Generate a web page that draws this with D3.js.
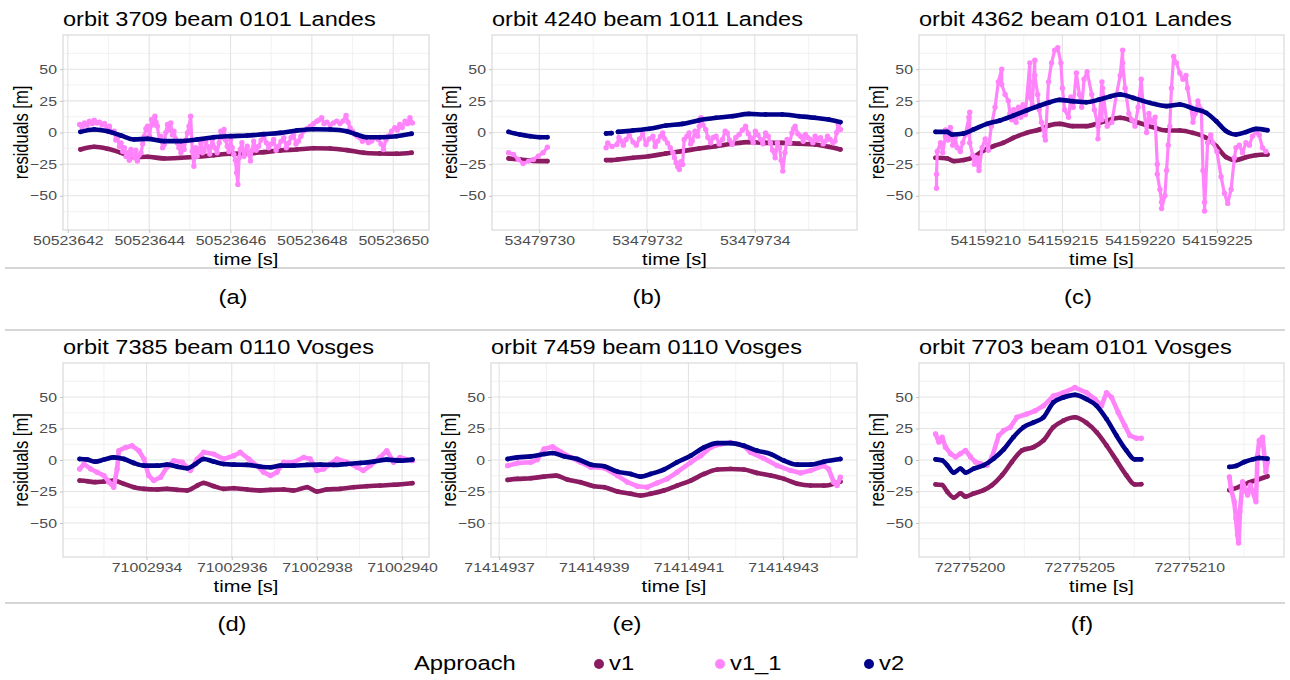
<!DOCTYPE html>
<html>
<head>
<meta charset="utf-8">
<script src="https://cdn.jsdelivr.net/npm/d3@7"></script>
<style>
  body { margin: 0; background: #fff; }
</style>
</head>
<body>
<svg id="chart" width="1290" height="680"></svg>
<script>
// titles, captions, time axes
const titles = [
  'orbit 3709 beam 0101 Landes', 'orbit 4240 beam 1011 Landes', 'orbit 4362 beam 0101 Landes',
  'orbit 7385 beam 0110 Vosges', 'orbit 7459 beam 0110 Vosges', 'orbit 7703 beam 0101 Vosges'
];
const captions = ['(a)', '(b)', '(c)', '(d)', '(e)', '(f)'];
const baseTimes = [50523642, 53479729, 54159205, 71002932, 71414936, 72775197];
const majorTicks = [
  [50523642, 50523644, 50523646, 50523648, 50523650],
  [53479730, 53479732, 53479734],
  [54159210, 54159215, 54159220, 54159225],
  [71002934, 71002936, 71002938, 71002940],
  [71414937, 71414939, 71414941, 71414943],
  [72775200, 72775205, 72775210]
];
const minorTicks = [
  [50523643, 50523645, 50523647, 50523649],
  [53479731, 53479733, 53479735],
  [54159207.5, 54159212.5, 54159217.5, 54159222.5, 54159227.5],
  [71002933, 71002935, 71002937, 71002939],
  [71414938, 71414940, 71414942, 71414944],
  [72775202.5, 72775207.5, 72775212.5]
];
const yMajor = [-50, -25, 0, 25, 50];
const yMinor = [-62.5, -37.5, -12.5, 12.5, 37.5, 62.5];
const seriesNames = ['v1', 'v1_1', 'v2'];
const seriesColors = ['#8b1c62', '#ff83fa', '#00008b'];

// [seconds after base time, residual m]; null = gap
const aV1 = [[0.31,-13.4],[0.65,-11.3],[0.98,-12.9],[1.31,-16],[1.63,-19.5],[1.96,-19.2],[2.37,-20.5],[2.78,-20],[3.18,-19.2],[3.59,-17.9],[4.0,-16.8],[4.41,-16.6],[4.82,-15.5],[5.22,-14.2],[5.63,-13.4],[6.04,-12.4],[6.45,-12.6],[6.86,-13.9],[7.27,-16],[7.67,-16.6],[8.08,-16.8],[8.45,-16]];
const aV11 = [[0.29,6.3],[0.35,4.5],[0.41,7.6],[0.47,5.8],[0.53,8.9],[0.6,7],[0.65,9.7],[0.72,7.5],[0.78,8.2],[0.84,6],[0.9,7.1],[0.96,4],[1.02,5],[1.08,0],[1.14,1.1],[1.18,-6],[1.22,-4.2],[1.27,-11],[1.31,-8.2],[1.35,-15],[1.39,-12.1],[1.43,-19],[1.47,-16],[1.51,-22],[1.55,-13.4],[1.59,-18],[1.63,-20],[1.67,-14],[1.71,-22.6],[1.75,-18],[1.8,-16],[1.84,-9],[1.88,-2.9],[1.92,3],[1.96,5],[2.01,-3],[2.06,10.3],[2.1,6],[2.14,12.9],[2.17,8],[2.2,5],[2.25,-6],[2.29,-2.9],[2.33,-12],[2.37,-9.5],[2.41,0],[2.45,6.3],[2.49,2],[2.53,7.6],[2.57,-2],[2.61,1.1],[2.65,-5],[2.69,-8.2],[2.73,-12],[2.78,-16],[2.82,-10],[2.86,-13.4],[2.9,-6],[2.94,-0.3],[2.98,5],[3.02,12.9],[3.06,-15],[3.1,-26.6],[3.14,-12],[3.18,-18.7],[3.22,-14],[3.27,-8.2],[3.31,-16],[3.35,-14.7],[3.39,-7],[3.43,-10.8],[3.49,-17],[3.55,-5.5],[3.61,-12],[3.67,-16],[3.72,-8],[3.76,1.1],[3.8,-4],[3.84,2.4],[3.88,-6],[3.92,-10.8],[3.96,-15],[4.0,-5.5],[4.04,-12],[4.08,-17.4],[4.12,-22],[4.15,-31.8],[4.18,-41],[4.21,-20],[4.24,-13.4],[4.28,-8],[4.33,-18.7],[4.37,-14],[4.41,-10.8],[4.45,-17],[4.49,-22.6],[4.53,-14],[4.57,-6.8],[4.63,-14],[4.69,-10.8],[4.75,-6],[4.82,-2.9],[4.88,-8],[4.94,-12.1],[5.0,-9],[5.06,-5.5],[5.12,-14],[5.18,-10.8],[5.24,-7],[5.31,-4.2],[5.37,-12],[5.43,-8.2],[5.49,-4],[5.55,-1.6],[5.61,-9],[5.67,-6.8],[5.73,-3],[5.8,1.1],[5.88,3],[5.96,5],[6.04,7],[6.12,8.9],[6.18,10],[6.24,11.6],[6.3,7],[6.37,8.2],[6.45,6],[6.53,7.6],[6.61,9],[6.69,7.1],[6.76,9],[6.84,13.4],[6.89,8],[6.94,3.7],[7.0,1],[7.06,-1.6],[7.12,-3],[7.18,-4.2],[7.24,-7],[7.31,-5.5],[7.39,-8],[7.47,-6.8],[7.55,-4],[7.63,-5.5],[7.7,-9],[7.76,-13.4],[7.82,-6],[7.88,-2.9],[7.96,1],[8.04,3.7],[8.1,2],[8.16,6.3],[8.22,4],[8.29,8.9],[8.35,7],[8.41,11.6],[8.47,7.6]];
const aV2 = [[0.31,0.5],[0.65,2.4],[0.98,1],[1.31,-2.4],[1.63,-5.5],[1.96,-5],[2.37,-6.8],[2.78,-6.8],[3.18,-5.5],[3.59,-3.7],[4.0,-2.9],[4.41,-2.4],[4.82,-1.3],[5.22,-0.3],[5.63,1.6],[6.04,2.6],[6.45,2.4],[6.86,1],[7.1,-1.6],[7.35,-3.7],[7.67,-3.7],[8.08,-2.9],[8.45,-1]];

const bV1 = [[0.43,-20.5],[0.64,-21.3],[0.89,-22.4],[1.15,-22.6],null,[2.24,-21.8],[2.34,-21.8],[2.46,-21.3],[2.74,-20],[3.04,-18.7],[3.35,-16.6],[3.66,-14.7],[3.97,-12.6],[4.28,-10.8],[4.58,-8.9],[4.89,-7.6],[5.2,-8.2],[5.51,-8.2],[5.82,-8.9],[6.12,-9.5],[6.37,-11.3],[6.59,-13.4]];
const bV11 = [[0.43,-16],[0.52,-17.4],[0.61,-21.3],[0.7,-24.5],[0.8,-22.6],[0.89,-21.3],[0.98,-18.7],[1.07,-16],[1.15,-11.6],null,[2.24,-12.1],[2.27,-8.2],[2.35,-11],[2.44,-9.5],[2.48,-4],[2.52,-6.8],[2.56,-10],[2.61,-5.5],[2.67,-2],[2.74,-7.6],[2.8,-10],[2.86,-5],[2.92,-1],[2.98,-9.5],[3.04,-5],[3.11,-2.9],[3.15,-11],[3.2,-6.8],[3.25,-3],[3.29,-0.3],[3.33,-5],[3.38,-8.2],[3.43,-12],[3.48,-16],[3.51,-20],[3.54,-23.9],[3.57,-27],[3.6,-29.2],[3.63,-23],[3.66,-25.2],[3.69,-5.5],[3.74,-3],[3.78,-0.3],[3.81,-9],[3.84,-6.8],[3.89,1],[3.94,-2.9],[3.97,5],[4.0,11.6],[4.04,6],[4.09,2.4],[4.13,-4],[4.18,-8.2],[4.23,-4],[4.28,-2.9],[4.34,-9],[4.4,-5.5],[4.45,1],[4.49,-0.3],[4.53,-6],[4.58,-9.5],[4.65,-4],[4.71,-1.6],[4.77,2],[4.83,5],[4.88,-1],[4.92,-4.2],[4.97,-8],[5.01,1.1],[5.06,-2],[5.11,-5.5],[5.15,-9],[5.2,-0.3],[5.25,-3],[5.29,-8.2],[5.33,-14],[5.38,-20],[5.42,-8],[5.46,-12.1],[5.49,-22],[5.52,-30.5],[5.56,-16],[5.6,-5.5],[5.65,-8],[5.69,-0.3],[5.72,3],[5.75,5],[5.8,-1],[5.85,-2.9],[5.9,-7],[5.94,-1.6],[5.98,-4],[6.03,-5.5],[6.08,-8],[6.12,-2.9],[6.17,-6],[6.22,-4.2],[6.27,-9],[6.31,-6.8],[6.35,-3],[6.4,-5.5],[6.45,-8],[6.49,-6.8],[6.52,0],[6.55,6.3],[6.59,2.4]];
const bV2 = [[0.43,0.5],[0.64,-1.6],[0.83,-2.9],[1.01,-3.7],[1.15,-3.7],null,[2.24,-0.8],[2.34,-0.5],null,[2.46,0.5],[2.74,1.6],[3.04,2.9],[3.35,5.5],[3.66,6.8],[3.97,9.7],[4.28,11.6],[4.58,12.9],[4.89,14.7],[5.2,14.2],[5.51,14.2],[5.82,12.9],[6.12,11.6],[6.37,10.3],[6.59,8.2]];

const cV1 = [[1.79,-20],[2.54,-20.5],[2.97,-22.6],[3.61,-21.8],[4.25,-19.5],[4.89,-14.2],[5.54,-10.8],[6.18,-8.1],[6.82,-4.2],[7.68,-0.3],[8.53,2.4],[9.18,5.8],[9.82,6.8],[10.67,5],[11.54,5],[12.39,7.6],[13.74,11.6],[14.6,8.9],[15.67,5],[16.74,1.6],[17.6,1.6],[18.45,-0.3],[19.31,-4.2],[19.96,-10.8],[20.6,-19.5],[21.24,-21.8],[21.88,-19.5],[22.53,-17.9],[23.27,-17.4]];
const cV11 = [[1.85,-44],[1.85,-33],[1.9,-15],[2.11,-8],[2.25,-16],[2.43,-3],[2.43,2],[2.6,-6],[2.75,0],[2.75,4],[2.9,-10],[3.05,-4],[3.2,-12],[3.39,-15],[3.55,-8],[3.71,-2],[3.95,12],[4.0,16],[4.0,-8],[4.2,-18],[4.3,-25],[4.45,-20],[4.6,-27],[4.6,-30],[4.8,-12],[5.0,-5],[5.2,-14],[5.4,5],[5.64,20],[5.85,40],[6.07,50],[6.07,38],[6.29,30],[6.5,25],[6.6,15],[6.72,10],[6.85,18],[7.0,8],[7.15,20],[7.3,12],[7.45,22],[7.6,14],[7.89,55],[7.89,40],[7.89,28],[8.05,22],[8.21,57],[8.21,45],[8.4,30],[8.5,18],[8.64,8],[8.86,-3],[8.9,-6],[9.1,40],[9.3,55],[9.5,65],[9.7,67],[9.9,55],[10.0,35],[10.14,18],[10.4,12],[10.55,28],[10.7,20],[10.9,47],[11.1,30],[11.25,20],[11.4,42],[11.6,48],[11.9,30],[12.07,18],[12.3,5],[12.3,-5],[12.56,40],[12.56,10],[12.6,35],[12.9,5],[13.2,8],[13.5,30],[13.74,45],[13.9,65],[13.9,55],[14.06,35],[14.3,15],[14.5,10],[14.7,5],[14.9,20],[15.1,42],[15.2,25],[15.45,0],[15.6,15],[15.77,8],[16.0,12],[16.14,-25],[16.14,-33],[16.31,-45],[16.42,-55],[16.42,-60],[16.63,-50],[16.74,-30],[16.85,-10],[16.95,5],[17.06,35],[17.2,60],[17.38,55],[17.6,47],[17.8,42],[18.0,45],[18.1,35],[18.3,20],[18.45,8],[18.6,15],[18.77,25],[18.99,18],[19.1,-30],[19.2,-55],[19.2,-62],[19.4,-8],[19.6,-2],[19.74,-8],[20.0,-15],[20.27,-35],[20.49,-48],[20.7,-56],[20.92,-45],[21.13,-20],[21.24,-12],[21.45,-10],[21.66,-16],[21.88,-8],[22.1,-10],[22.3,-3],[22.53,0],[22.74,-2],[22.95,-12],[23.17,-15]];
const cV2 = [[1.79,0.5],[2.54,0.5],[2.86,-1.6],[3.61,-0.8],[4.25,2.4],[5.11,6.8],[5.96,9.5],[6.82,13.4],[7.68,17.4],[8.53,21.3],[9.18,23.9],[9.82,25.8],[10.67,24.7],[11.54,23.9],[12.39,26],[13.1,28.5],[13.74,30],[14.6,27.3],[15.67,23.4],[16.74,20.8],[17.6,22.1],[18.45,18.9],[19.31,15.5],[19.96,8.9],[20.6,1.1],[21.24,-1.6],[21.88,0.3],[22.53,2.9],[23.27,1.8]];

const dV1 = [[0.43,-16.3],[0.61,-16.8],[0.8,-17.6],[1.0,-17.1],[1.23,-16.3],[1.47,-18.9],[1.7,-21.6],[1.94,-22.9],[2.25,-23.4],[2.48,-22.9],[2.72,-23.7],[2.95,-24.2],[3.19,-20.3],[3.34,-18.2],[3.58,-20.8],[3.81,-22.9],[4.05,-22.4],[4.36,-23.4],[4.67,-24.2],[4.91,-23.7],[5.22,-23.4],[5.45,-24.2],[5.77,-21.6],[6.0,-25],[6.23,-23.4],[6.55,-22.9],[6.86,-21.6],[7.17,-20.8],[7.48,-20.3],[7.8,-19.7],[8.24,-18.4]];
const dV11 = [[0.43,-7.1],[0.53,-3.2],[0.69,-7.1],[0.84,-9.7],[1.0,-12.4],[1.12,-17.6],[1.23,-21.6],[1.31,-7.1],[1.35,7.4],[1.51,10],[1.66,11.3],[1.82,7.4],[1.94,0.8],[2.05,-12.4],[2.17,-16.3],[2.33,-13.7],[2.48,-5.8],[2.64,-0.5],[2.84,-1.8],[3.03,-8.4],[3.19,0.8],[3.34,6.1],[3.58,4.7],[3.81,0.8],[4.05,3.4],[4.2,6.1],[4.4,0.8],[4.59,-4.5],[4.75,-9.7],[4.91,-12.4],[5.06,-9.7],[5.22,-1.8],[5.45,-1.8],[5.69,2.1],[5.84,0.8],[6.0,-8.4],[6.16,-7.1],[6.31,-3.2],[6.47,0.8],[6.7,-1.8],[6.94,-5.8],[7.09,-8.4],[7.25,-4.5],[7.48,2.1],[7.64,7.4],[7.8,-1.8],[7.95,2.1],[8.24,-0.5]];
const dV2 = [[0.43,0.8],[0.61,0.3],[0.8,-1.3],[1.0,0.3],[1.23,2.1],[1.47,0.8],[1.7,-2.4],[1.94,-4.5],[2.25,-4.5],[2.48,-3.7],[2.72,-5.3],[2.95,-6.6],[3.15,-3.2],[3.34,0.8],[3.58,-1.3],[3.81,-3.2],[4.05,-3.7],[4.36,-3.9],[4.67,-5.3],[4.91,-5.8],[5.14,-4.5],[5.45,-4.5],[5.77,-3.9],[6.08,-3.7],[6.39,-3.9],[6.7,-3.2],[7.02,-2.4],[7.33,-1.3],[7.64,0.3],[7.95,-0.5],[8.24,0.3]];

const eV1 = [[1.18,-15.8],[1.39,-15],[1.67,-14.5],[1.95,-13.2],[2.2,-12.4],[2.44,-15.5],[2.72,-17.6],[3.0,-20.8],[3.22,-21.6],[3.5,-25],[3.78,-26.8],[3.99,-28.2],[4.2,-26.8],[4.48,-24.2],[4.76,-20.3],[5.05,-16.3],[5.33,-11.1],[5.61,-7.6],[5.89,-7.1],[6.17,-7.6],[6.45,-10.3],[6.74,-12.4],[7.02,-15],[7.3,-18.9],[7.58,-20.3],[7.86,-20.3],[8.21,-17.1]];
const eV11 = [[1.18,-4.5],[1.39,-2.4],[1.67,-1.8],[1.81,0.3],[1.95,8.7],[2.13,10.5],[2.3,6.6],[2.51,2.1],[2.72,-1.8],[2.94,-5.8],[3.22,-6.3],[3.5,-12.4],[3.71,-17.6],[3.92,-20.8],[4.13,-21.6],[4.34,-18.2],[4.55,-15],[4.76,-9.7],[5.05,-1.8],[5.26,3.4],[5.47,10],[5.68,12.6],[5.89,13.9],[6.17,11.3],[6.31,6.1],[6.59,1.3],[6.88,-4.5],[7.16,-8.4],[7.37,-10.3],[7.58,-8.4],[7.86,-4.5],[7.96,-7.1],[8.07,-17.6],[8.14,-20.3],[8.21,-13.7]];
const eV2 = [[1.18,0.8],[1.39,2.1],[1.67,2.9],[1.95,4.7],[2.13,5.5],[2.37,2.9],[2.65,0.8],[2.94,-3.7],[3.22,-5],[3.5,-9.2],[3.78,-11.1],[3.99,-13.2],[4.2,-11.1],[4.48,-7.6],[4.76,-1.8],[5.05,3.4],[5.33,10],[5.61,13.4],[5.89,13.4],[6.17,11.3],[6.45,7.4],[6.74,4.7],[7.02,-0.5],[7.3,-3.7],[7.58,-3.7],[7.86,-1.3],[8.21,0.8]];

const fV1 = [[1.46,-19.4],[1.76,-19.9],[1.99,-25.2],[2.29,-29.9],[2.59,-26.5],[2.82,-29.1],[3.2,-26.5],[3.65,-23.9],[4.03,-19.9],[4.48,-12.1],[4.93,-1.6],[5.39,7.6],[5.92,10.2],[6.37,15.5],[6.82,26],[7.27,31.2],[7.8,33.9],[8.33,29.4],[8.79,22],[9.24,11.5],[9.69,-0.3],[10.14,-12.1],[10.52,-19.4],[10.82,-19.2],null,[14.83,-23.9],[15.28,-21.3],[15.73,-17.8],[16.19,-15.2],[16.56,-12.9]];
const fV11 = [[1.46,20.7],[1.61,14.2],[1.76,18.1],[1.91,10.2],[2.14,5],[2.37,2.4],[2.59,5],[2.82,7.6],[3.05,2.4],[3.27,-1.6],[3.5,-2.9],[3.8,-4.2],[4.03,2.4],[4.33,19.4],[4.56,23.4],[4.86,26],[5.16,33.9],[5.61,36.5],[5.99,39.1],[6.37,43],[6.82,50.9],[7.27,53.5],[7.8,57.5],[8.33,53.5],[8.71,48.3],[9.01,43],[9.24,53.5],[9.47,49.6],[9.77,37.8],[10.07,27.3],[10.3,19.4],[10.6,17.3],[10.82,17.3],null,[14.83,-13.4],[14.9,-22.6],[15.05,-33.1],[15.13,-46.2],[15.2,-59.3],[15.25,-65.9],[15.31,-40.9],[15.43,-17.3],[15.55,-24],[15.66,-27.8],[15.78,-20],[15.89,-25.2],[16.04,-33.1],[16.11,3.7],[16.19,15.5],[16.34,18.1],[16.49,-9.4],[16.56,-1.6]];
const fV2 = [[1.46,0.5],[1.76,-0.3],[1.99,-4.2],[2.29,-10],[2.59,-6.8],[2.82,-10],[3.2,-6.8],[3.65,-4.2],[4.1,1],[4.56,8.4],[5.0,18.1],[5.46,26],[5.92,29.9],[6.37,33.9],[6.82,45.7],[7.27,49.6],[7.8,51.7],[8.33,48.3],[8.79,43],[9.24,32.5],[9.69,19.4],[10.14,7.6],[10.52,0.5],[10.82,0.5],null,[14.83,-5.5],[15.13,-4.7],[15.51,-1.6],[15.89,0.5],[16.19,1.6],[16.56,1]];

const panelData = [
  [aV1, aV11, aV2], [bV1, bV11, bV2], [cV1, cV11, cV2],
  [dV1, dV11, dV2], [eV1, eV11, eV2], [fV1, fV11, fV2]
];

// layout
const panels = [
  {x0: 63, x1: 429, y0: 35, y1: 230, cap: 233},
  {x0: 492, x1: 857, y0: 35, y1: 230, cap: 647},
  {x0: 919, x1: 1284, y0: 35, y1: 230, cap: 1078},
  {x0: 63, x1: 429, y0: 363, y1: 557, cap: 232},
  {x0: 491, x1: 857, y0: 363, y1: 557, cap: 627},
  {x0: 919, x1: 1284, y0: 363, y1: 557, cap: 1082}
];
const noisy = [true, true, true, false, false, false];
const SX = 1.22;   // text in the picture is stretched horizontally
const font = '"Liberation Sans", Arial, Helvetica, sans-serif';

const svg = d3.select('#chart');

function addText(g, x, y, s, size, opt = {}) {
  const tf = opt.rotate
    ? `translate(${x},${y}) rotate(-90) scale(1,${SX})`
    : `translate(${x},${y}) scale(${SX},1)`;
  return g.append('text')
    .attr('transform', tf)
    .attr('text-anchor', opt.anchor || 'start')
    .attr('font-family', font)
    .attr('font-size', size)
    .attr('fill', opt.color || '#000')
    .text(s);
}

// row separators
[268, 330, 603].forEach(yy => {
  svg.append('line')
    .attr('x1', 5).attr('x2', 1285)
    .attr('y1', yy).attr('y2', yy)
    .attr('stroke', '#c8c8c8').attr('stroke-width', 1.3);
});

panels.forEach((p, i) => {
  const base = baseTimes[i];
  const all = panelData[i].flat().filter(d => d);
  const [lo, hi] = d3.extent(all, d => d[0]);
  const pad = (hi - lo) * 0.05;

  const x = d3.scaleLinear().domain([lo - pad, hi + pad]).range([p.x0, p.x1]);
  const y = d3.scaleLinear().domain([-77, 77]).range([p.y1, p.y0]);

  const g = svg.append('g');

  // grid
  g.selectAll('.gy-minor').data(yMinor).join('line')
    .attr('x1', p.x0).attr('x2', p.x1)
    .attr('y1', d => y(d)).attr('y2', d => y(d))
    .attr('stroke', '#efefef').attr('stroke-width', 0.8);
  g.selectAll('.gx-minor').data(minorTicks[i]).join('line')
    .attr('x1', d => x(d - base)).attr('x2', d => x(d - base))
    .attr('y1', p.y0).attr('y2', p.y1)
    .attr('stroke', '#efefef').attr('stroke-width', 0.8);
  g.selectAll('.gy').data(yMajor).join('line')
    .attr('x1', p.x0).attr('x2', p.x1)
    .attr('y1', d => y(d)).attr('y2', d => y(d))
    .attr('stroke', '#e3e3e3').attr('stroke-width', 1.1);
  g.selectAll('.gx').data(majorTicks[i]).join('line')
    .attr('x1', d => x(d - base)).attr('x2', d => x(d - base))
    .attr('y1', p.y0).attr('y2', p.y1)
    .attr('stroke', '#e3e3e3').attr('stroke-width', 1.1);

  // series: v1, v1_1, v2 (v2 on top)
  panelData[i].forEach((data, k) => {
    const curve = k === 1 ? d3.curveLinear : d3.curveMonotoneX;
    const line = d3.line()
      .defined(d => d)
      .x(d => x(d[0]))
      .y(d => y(d[1]))
      .curve(curve);
    const w = (k === 1 && noisy[i]) ? 3.2 : 4.6;
    g.append('path')
      .datum(data)
      .attr('fill', 'none')
      .attr('stroke', seriesColors[k])
      .attr('stroke-width', w)
      .attr('stroke-linejoin', 'round')
      .attr('stroke-linecap', 'round')
      .attr('d', line);
    g.selectAll(null).data(data.filter(d => d)).join('circle')
      .attr('cx', d => x(d[0]))
      .attr('cy', d => y(d[1]))
      .attr('r', k === 1 ? 2.7 : 2.4)
      .attr('fill', seriesColors[k]);
  });

  // panel border
  g.append('rect')
    .attr('x', p.x0).attr('y', p.y0)
    .attr('width', p.x1 - p.x0).attr('height', p.y1 - p.y0)
    .attr('fill', 'none').attr('stroke', '#d2d2d2').attr('stroke-width', 1);

  // x axis
  const xAxis = d3.axisBottom(x)
    .tickValues(majorTicks[i].map(t => t - base))
    .tickFormat(t => d3.format('d')(t + base))
    .tickSize(3).tickPadding(3);
  const gx = g.append('g').attr('transform', `translate(0,${p.y1})`).call(xAxis);
  gx.select('.domain').remove();
  gx.selectAll('line').attr('stroke', '#c4c4c4');
  gx.selectAll('text')
    .attr('font-family', font).attr('font-size', 13).attr('fill', '#4d4d4d')
    .attr('transform', `scale(${SX},1)`);

  // y axis
  const yAxis = d3.axisLeft(y).tickValues(yMajor).tickSize(3).tickPadding(3);
  const gy = g.append('g').attr('transform', `translate(${p.x0},0)`).call(yAxis);
  gy.select('.domain').remove();
  gy.selectAll('line').attr('stroke', '#c4c4c4');
  gy.selectAll('text')
    .attr('font-family', font).attr('font-size', 13).attr('fill', '#4d4d4d')
    .attr('x', -6 / SX)
    .attr('transform', `scale(${SX},1)`);

  // titles and captions
  addText(g, p.x0, p.y0 - 9, titles[i], 19.3);
  addText(g, (p.x0 + p.x1) / 2, p.y1 + 35, 'time [s]', 16.5, {anchor: 'middle'});
  addText(g, p.x0 - 35, (p.y0 + p.y1) / 2, 'residuals [m]', 16.5, {anchor: 'middle', rotate: true});
  addText(g, p.cap, p.y1 + 74, captions[i], 19.5, {anchor: 'middle'});
});

// legend
const legend = svg.append('g');
addText(legend, 414, 670, 'Approach', 19.5);
const legendX = [599, 720, 869];
seriesNames.forEach((name, k) => {
  legend.append('circle')
    .attr('cx', legendX[k]).attr('cy', 664).attr('r', 5)
    .attr('fill', seriesColors[k]);
  addText(legend, legendX[k] + 10, 670, name, 19.5);
});
</script>
</body>
</html>
